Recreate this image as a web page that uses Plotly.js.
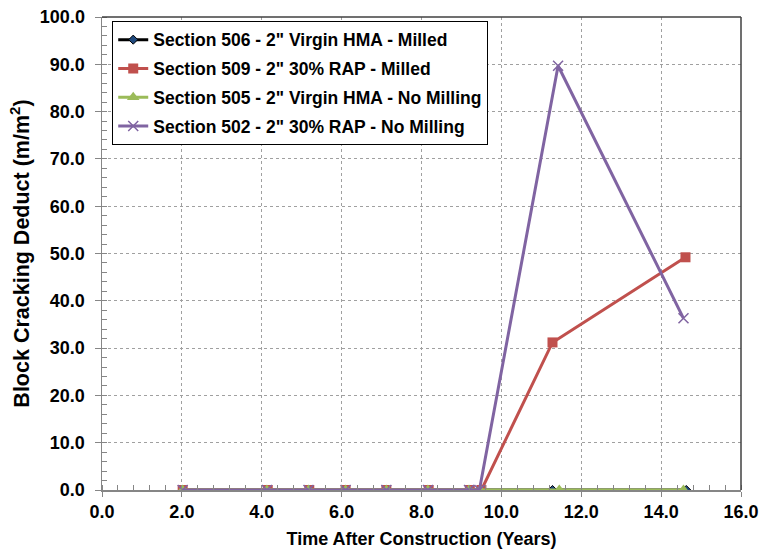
<!DOCTYPE html>
<html>
<head>
<meta charset="utf-8">
<script src="https://cdn.plot.ly/plotly-3.0.1.min.js"></script>
<style>html,body{margin:0;padding:0;background:#fff;}#chart{width:763px;height:550px;}</style>
</head>
<body>
<div id="chart"></div>
<script>
// Data
const names = [
  'Section 506 - 2" Virgin HMA - Milled',
  'Section 509 - 2" 30% RAP - Milled',
  'Section 505 - 2" Virgin HMA - No Milling',
  'Section 502 - 2" 30% RAP - No Milling'
];
const x506 = [2.02, 4.13, 5.17, 6.10, 7.12, 8.16, 9.19, 9.47, 11.28, 14.63];
const y506 = [0, 0, 0, 0, 0, 0, 0, 0, 0, 0];
const x509 = [2.02, 4.15, 5.19, 6.10, 7.12, 8.18, 9.21, 9.50, 11.28, 14.61];
const y509 = [0, 0, 0, 0, 0, 0, 0, 0, 31.2, 49.2];
const x505 = [2.02, 4.13, 5.17, 6.10, 7.12, 8.16, 9.19, 9.47, 11.45, 14.56];
const y505 = [0, 0, 0, 0, 0, 0, 0, 0, 0, 0];
const x502 = [2.02, 4.13, 5.17, 6.10, 7.12, 8.16, 9.19, 9.45, 11.42, 14.56];
const y502 = [0, 0, 0, 0, 0, 0, 0, 0, 89.7, 36.3];
const xTicks = [0, 2, 4, 6, 8, 10, 12, 14, 16];
const xTickText = ['0.0', '2.0', '4.0', '6.0', '8.0', '10.0', '12.0', '14.0', '16.0'];
const yTicks = [0, 10, 20, 30, 40, 50, 60, 70, 80, 90, 100];
const yTickText = ['0.0', '10.0', '20.0', '30.0', '40.0', '50.0', '60.0', '70.0', '80.0', '90.0', '100.0'];

const font = 'Liberation Sans, Arial, sans-serif';
const B = s => '<b>' + s + '</b>';
const traces = [
  {x: x506, y: y506, name: B(names[0]), legendgroup: 'g1', mode: 'lines+markers',
   line: {color: '#000000', width: 3},
   marker: {symbol: 'diamond', size: 7, color: '#1F497D', line: {color: '#000', width: 1}}},
  {x: x509, y: y509, name: B(names[1]), legendgroup: 'g2', mode: 'lines+markers',
   line: {color: '#C0504D', width: 3},
   marker: {symbol: 'square', size: 10, color: '#C0504D'}},
  {x: x505, y: y505, name: B(names[2]), legendgroup: 'g3', mode: 'lines+markers',
   line: {color: '#9BBB59', width: 3},
   marker: {symbol: 'triangle-up', size: 11, color: '#9BBB59'}},
  {x: x502, y: y502, name: B(names[3]), legendgroup: 'g4', mode: 'lines+markers',
   line: {color: '#8064A2', width: 3},
   marker: {symbol: 'x-thin', size: 10, color: '#8064A2', line: {color: '#8064A2', width: 1.5}}}
];

const layout = {
  width: 763, height: 550,
  margin: {l: 102, r: 22, t: 17, b: 60, pad: 0},
  paper_bgcolor: '#fff', plot_bgcolor: '#fff',
  font: {family: font, color: '#000', size: 17},
  showlegend: true,
  legend: {
    x: 0.016, y: 0.992, xanchor: 'left', yanchor: 'top',
    bgcolor: '#fff', bordercolor: '#000', borderwidth: 1,
    font: {family: font, size: 17.5, color: '#000', weight: 'bold'},
    itemwidth: 30, tracegroupgap: 3
  },
  xaxis: {
    range: [0, 16], tickvals: xTicks, ticktext: xTickText.map(B),
    showgrid: true, gridcolor: '#a0a0a0', griddash: 'dot', gridwidth: 1,
    showline: true, linecolor: '#868686', linewidth: 1.5, mirror: false,
    ticks: 'outside', ticklen: 5, tickcolor: '#868686',
    minor: {dtick: 0.4, ticks: 'inside', ticklen: 5, tickcolor: '#868686', showgrid: false},
    zeroline: false,
    tickfont: {family: font, size: 18, color: '#000', weight: 'bold'},
    title: {text: B('Time After Construction (Years)'), font: {family: font, size: 18, weight: 'bold'}, standoff: 11}
  },
  yaxis: {
    range: [0, 100], tickvals: yTicks, ticktext: yTickText.map(B),
    showgrid: true, gridcolor: '#a0a0a0', griddash: 'dot', gridwidth: 1,
    showline: true, linecolor: '#868686', linewidth: 1.5,
    ticks: 'outside', ticklen: 6, tickcolor: '#868686', ticklabelstandoff: 6,
    minor: {dtick: 2, ticks: 'inside', ticklen: 5, tickcolor: '#868686', showgrid: false},
    zeroline: false,
    tickfont: {family: font, size: 18, color: '#000', weight: 'bold'},
    title: {text: B('Block Cracking Deduct (m/m<sup>2</sup>)'), font: {family: font, size: 21.5, weight: 'bold'}, standoff: 4}
  },
  shapes: [
    {type: 'line', xref: 'paper', yref: 'paper', x0: 0, x1: 1, y0: 1, y1: 1, line: {color: '#404040', width: 1.5}},
    {type: 'line', xref: 'paper', yref: 'paper', x0: 1, x1: 1, y0: 0, y1: 1, line: {color: '#404040', width: 1.5}}
  ]
};

Plotly.newPlot('chart', traces, layout, {displayModeBar: false, staticPlot: true});
</script>
</body>
</html>
